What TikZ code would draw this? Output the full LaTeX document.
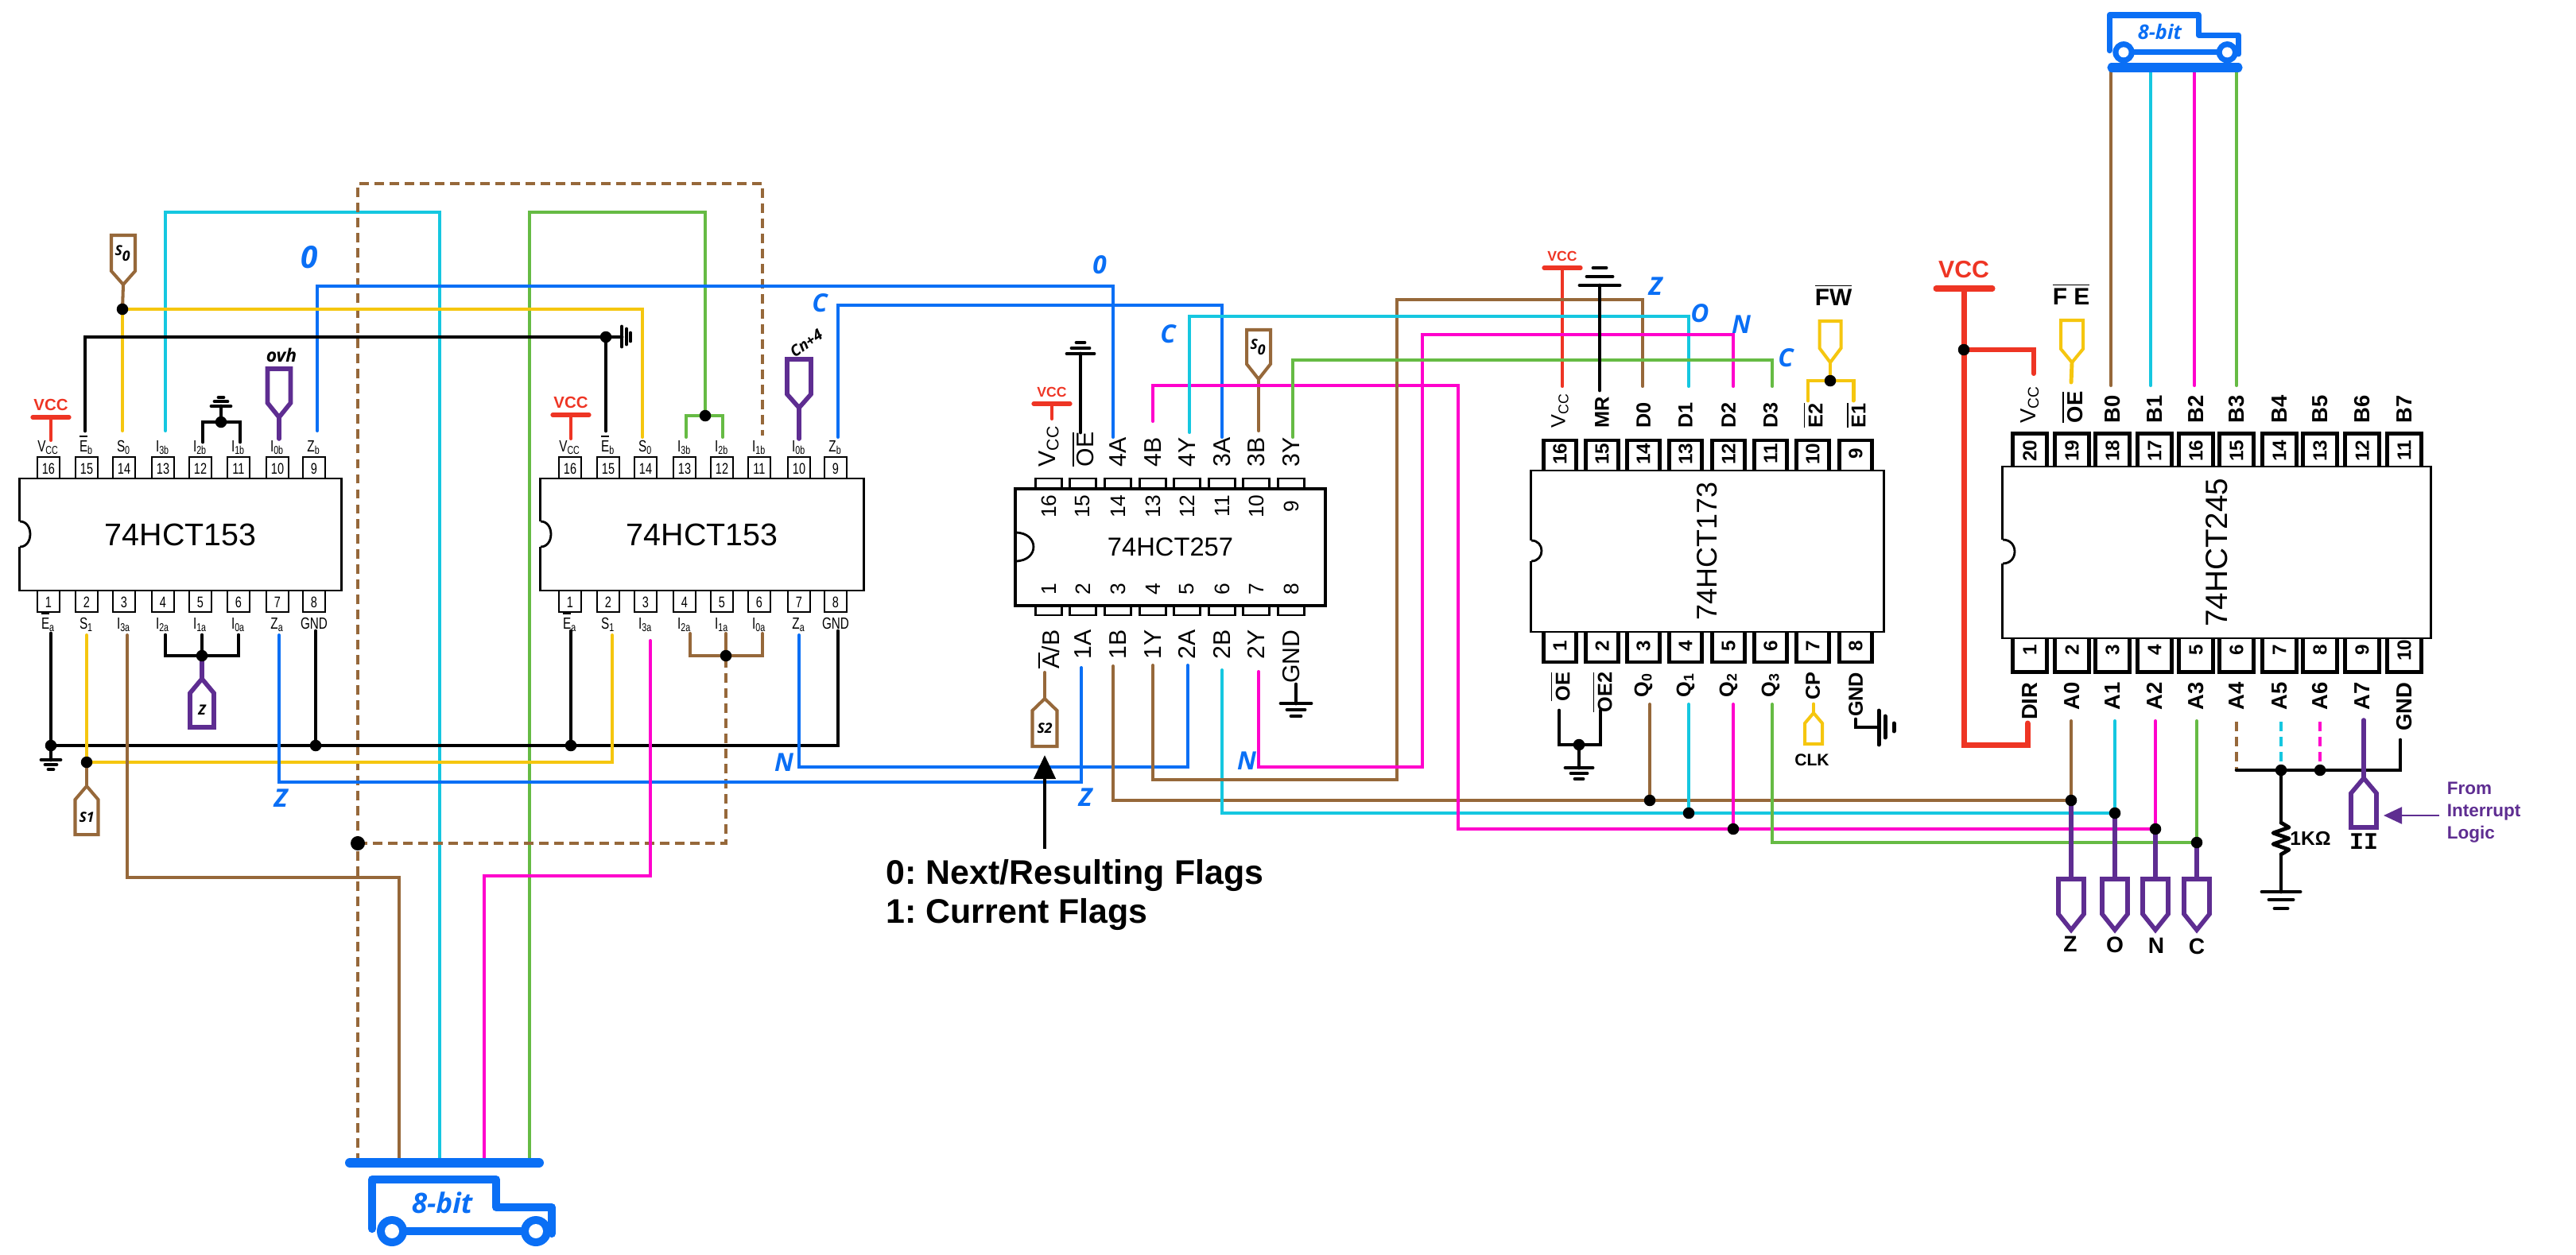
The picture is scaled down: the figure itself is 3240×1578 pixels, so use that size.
\documentclass[tikz,border=0pt]{standalone}
\usepackage{fontspec}
\usetikzlibrary{positioning,arrows.meta}
\setmainfont{Liberation Sans}
\newfontfamily\narrowfont[FakeStretch=0.75]{Liberation Sans}
\newfontfamily\handfont{Open Sans}
\newfontfamily\serifmono{Liberation Mono}

\definecolor{wbrown}{HTML}{96683A}
\definecolor{wcyan}{HTML}{15C7E0}
\definecolor{wgreen}{HTML}{66BB44}
\definecolor{wmag}{HTML}{FF00CC}
\definecolor{wblue}{HTML}{0A6FF5}
\definecolor{wyel}{HTML}{F5C60F}
\definecolor{wred}{HTML}{EE3524}
\definecolor{wpurp}{HTML}{5E2D91}

\newcommand{\fs}[1]{\fontsize{#1}{#1}\selectfont}
\newcommand{\ovl}[1]{\ensuremath{\overline{\hbox{#1}}}}

\tikzset{
  wire/.style={line width=1.15pt,line cap=round},
  brownw/.style={wire,draw=wbrown},
  cyanw/.style={wire,draw=wcyan},
  greenw/.style={wire,draw=wgreen},
  magw/.style={wire,draw=wmag},
  bluew/.style={wire,draw=wblue},
  yelw/.style={wire,draw=wyel},
  purpw/.style={wire,draw=wpurp,line width=1.6pt},
  redw/.style={wire,draw=wred},
  redthick/.style={wire,draw=wred,line width=2pt},
  blackw/.style={wire,draw=black,line width=1.35pt},
  dashw/.style={line width=1.35pt,line cap=butt,dash pattern=on 3.4pt off 2pt},
  chipbody/.style={draw,fill=white,rectangle,inner sep=0,line width=.8pt},
  pinA/.style={draw,line width=.7pt,minimum width=.28cm,minimum height=.30cm,inner sep=0},
  pinC/.style={draw,line width=.8pt,minimum width=.33cm,minimum height=.12cm,inner sep=0},
  pinD/.style={draw,line width=1.2pt,minimum width=.41cm,minimum height=.42cm,inner sep=0},
  pinE/.style={draw,line width=1.2pt,minimum width=.43cm,minimum height=.45cm,inner sep=0},
  numA/.style={inner sep=0,font=\narrowfont\fs{5.5}},
  numC/.style={inner sep=0,rotate=90,font=\fs{7.5}},
  numD/.style={inner sep=0,rotate=90,font=\bfseries\fs{6.9}},
  lblA/.style={inner sep=0,anchor=base,font=\narrowfont\fs{5.8}},
  lblCt/.style={inner sep=0,rotate=90,anchor=west,font=\fs{8.6}},
  lblCb/.style={inner sep=0,rotate=90,anchor=east,font=\fs{8.6}},
  lblDt/.style={inner sep=0,rotate=90,anchor=west,font=\bfseries\fs{7.2}},
  lblDb/.style={inner sep=0,rotate=90,anchor=east,font=\bfseries\fs{7.2}},
  lblEt/.style={lblDt,font=\bfseries\fs{7.8}},
  lblEb/.style={lblDb,font=\bfseries\fs{7.8}},
  junction/.style={circle,fill=black,inner sep=0,minimum size=.145cm},
  vcctext/.style={anchor=south,inner sep=.08cm,text=wred,font=\bfseries\fs{5}},
  tagtext/.style={inner sep=0,font=\handfont\bfseries\itshape\fs{5}},
  handblue/.style={inner sep=0,text=wblue,font=\handfont\bfseries\itshape\fs{9}},
  signame/.style={inner sep=0,font=\bfseries\fs{8}},
  gndline/.style={line width=1.4pt,line cap=round}
}

% name, pin style, y, number style, y, label style, y, list
\newcommand{\pinrow}[8]{%
  \foreach \n/\x/\lab in {#8}{%
    \node[#2] (#1\n) at (\x,#3) {};
    \node[#4] (#1\n-n) at (\x,#5) {\n};
    \node[#6] (#1\n-l) at (\x,#7) {\lab};
  }}
% notch in the left edge: x, y, radius, depth
\newcommand{\notch}[5][white]{%
  \draw[#1,line width=.9pt] (#2,#3-#4) -- (#2,#3+#4);
  \draw[line width=.8pt] (#2,#3+#4) .. controls (#2+#5*1.33,#3+#4) and (#2+#5*1.33,#3-#4) .. (#2,#3-#4);}
% name, colour style, x, half width, base, shoulder, apex, text
\newcommand{\tagshape}[8]{%
  \coordinate (#1) at (#3,#7);
  \coordinate (#1b) at (#3,#5);
  \draw[#2,fill=white,line join=miter] (#3-#4,#5) -- (#3-#4,#6) -- (#3,#7) -- (#3+#4,#6) -- (#3+#4,#5) -- cycle;
  \node[tagtext] (#1t) at (#3,{(#5+#6)/2}) {#8};}
% name, x, bar y, half width, text options, end of stem
\newcommand{\vccbar}[6]{%
  \coordinate (#1) at (#2,#3);
  \draw[redw,line width=1.5pt] (#2-#4,#3) -- (#2+#4,#3);
  \node[vcctext,#5] (#1t) at (#1) {VCC};
  \draw[redw] (#1) -- (#6);}
\newcommand{\gndbars}[7]{%
  \draw[gndline] (#1-#3,#2) -- (#1+#3,#2);
  \draw[gndline] (#1-#5,#4) -- (#1+#5,#4);
  \draw[gndline] (#1-#7,#6) -- (#1+#7,#6);}
% x, y, scale, line width, font size
\newcommand{\truck}[5]{%
  \begin{scope}[shift={(#1,#2)},scale=#3]
    \draw[wblue,line width=#4,line join=round,line cap=round] (0,62) -- (0,0) -- (156,0) -- (156,35) -- (226,35) -- (226,68);
    \draw[wblue,line width=#4] (25,65) -- (206,65);
    \foreach \w in {25,206}{
      \fill[wblue] (\w,65) circle[radius=19];
      \fill[white] (\w,65) circle[radius=9];
    }
    \node[handblue,font=\handfont\bfseries\itshape\fs{#5}] (truck#1) at (88,29) {8-bit};
  \end{scope}}

\begin{document}
\begin{tikzpicture}[x=.01cm,y=-.01cm]
  \useasboundingbox (0,0) rectangle (3240,1578);

  % wire ends
  \foreach \n/\x/\y in {aEb/107/542,aS0/154/542,aIiii/208/542,aZb/399/542,aIii/255/556,aIi/302/556,aIo/351/552,
    bEb/762/542,bS0/808/550,bIiii/863/550,bIii/909/550,bIi/959/548,bIo/1005/552,bZb/1054/550,
    aEa/64/797,aS1/109/799,aIiiia/160/799,aIiia/208/799,aIia/254/799,aIoa/300/799,aZa/351/799,aGnd/397/794,
    bEa/718/794,bS1/770/799,bIiiia/818/806,bIiia/868/797,bIia/913/797,bIoa/959/797,bZa/1005/799,bGnd/1054/794,
    cOE/1359/544,cAiv/1400/550,cBiv/1450/530,cYiv/1496/544,cAiii/1537/550,cBiii/1583/542,cYiii/1626/550,
    cAB/1314/846,cAi/1360/840,cBi/1400/838,cYi/1450/837,cAii/1494/837,cBii/1537/843,cYii/1583/845,cGnd/1630/861,
    dMR/2012/491,dDo/2066/486,dDi/2124/486,dDii/2180/486,dDiii/2229/486,dEii/2274/504,dEi/2331/504,
    dOE/1961/894,dOEii/2013/894,dQo/2075/886,dQi/2124/886,dQii/2180/886,dQiii/2229/886,dCP/2281/886,dGnd/2334/905,
    eVcc/2558/470,eOE/2605/481,eBo/2655/485,eBi/2705/485,eBii/2760/485,eBiii/2813/485,eDir/2550/910,
    eAo/2605/907,eAi/2660/907,eAii/2711/907,eAiii/2763/907,eAiv/2813/908,eAv/2869/908,eAvi/2918/908,eAvii/2973/906,eGnd/3019/931,
    railEnd/1054/938,gndA/64/956,gndB/782/424,gndMR/2012/359,gndOE/1986/966,gndR/2869/1122,gndC/1630/885,gndCoe/1359/445,gndI/278/511,
    resTop/2869/1035,resBot/2869/1075,eRail/2813/969,
    bbDash/450/1463,bbBrown/502/1463,bbCyan/553/1463,bbMag/609/1463,bbGreen/666/1463,busBl/440/1463,busBr/678/1463,
    btBrown/2655/85,btCyan/2705/85,btMag/2760/85,btGreen/2813/85,busTl/2656/85,busTr/2815/85,
    arrS/1314/1068,arrE/1314/950,arrPs/3068/1026,arrPe/2998/1026,
    eBend/2470/937,vccEl/2435/363,vccEr/2506/363}
    \coordinate (\n) at (\x,\y);
  \foreach \n/\x/\y in {jaS0/154/389,jbEb/762/424,jaI/278/531,jbI/887/523,jaBr/254/825,jbB/913/825,
    jRailA/64/938,jRailB/397/938,jRailC/718/938,jaS1/109/959,jdash/450/1061,
    jQ0/2075/1007,jQ1/2124/1023,jQ2/2180/1043,jA0/2605/1007,jA1/2660/1023,jA2/2711/1043,jA3/2763/1060,
    jdE/2302/479,jdOE/1986/937,jeV/2470/440,jeAv/2869/969,jeAvi/2918/969}
    \coordinate (\n) at (\x,\y);

  % 74HCT153, first
  \pinrow{a}{pinA}{590}{numA}{590}{lblA}{568}{16/61/V\textsubscript{CC},15/109/\ovl{E}\textsubscript{b},14/156/S\textsubscript{0},13/205/I\textsubscript{3b},12/252/I\textsubscript{2b},11/300/I\textsubscript{1b},10/349/I\textsubscript{0b},9/395/Z\textsubscript{b}}
  \pinrow{a}{pinA}{755}{numA}{758}{lblA}{791}{1/61/\ovl{E}\textsubscript{a},2/109/S\textsubscript{1},3/156/I\textsubscript{3a},4/205/I\textsubscript{2a},5/252/I\textsubscript{1a},6/300/I\textsubscript{0a},7/349/Z\textsubscript{a},8/395/GND}
  \node[chipbody,minimum width=4.04cm,minimum height=1.41cm,font=\fs{11.2}] (ua) at (227,672.5) {74HCT153};
  \notch{25}{672}{16}{13}

  % 74HCT153, second
  \pinrow{b}{pinA}{590}{numA}{590}{lblA}{568}{16/717/V\textsubscript{CC},15/765/\ovl{E}\textsubscript{b},14/812/S\textsubscript{0},13/861/I\textsubscript{3b},12/908/I\textsubscript{2b},11/955/I\textsubscript{1b},10/1005/I\textsubscript{0b},9/1051/Z\textsubscript{b}}
  \pinrow{b}{pinA}{755}{numA}{758}{lblA}{791}{1/717/\ovl{E}\textsubscript{a},2/765/S\textsubscript{1},3/812/I\textsubscript{3a},4/861/I\textsubscript{2a},5/908/I\textsubscript{1a},6/955/I\textsubscript{0a},7/1005/Z\textsubscript{a},8/1051/GND}
  \node[chipbody,minimum width=4.06cm,minimum height=1.41cm,font=\fs{11.2}] (ub) at (883,672.5) {74HCT153};
  \notch{680}{672}{16}{13}

  % 74HCT257
  \node[chipbody,line width=1.2pt,minimum width=3.90cm,minimum height=1.47cm,font=\fs{9.3}] (uc) at (1472,688.5) {74HCT257};
  \pinrow{c}{pinC}{608}{numC}{637}{lblCt}{588}{16/1319/V\textsubscript{CC},15/1362/\ovl{OE},14/1406/4A,13/1450/4B,12/1493/4Y,11/1537/3A,10/1580/3B,9/1624/3Y}
  \pinrow{c}{pinC}{768}{numC}{741}{lblCb}{792}{1/1319/{\ovl{A}/B},2/1362/1A,3/1406/1B,4/1450/1Y,5/1493/2A,6/1537/2B,7/1580/2Y,8/1624/GND}
  \notch[black]{1277}{688}{18}{23}

  % 74HCT173
  \pinrow{d}{pinD}{575}{numD}{571}{lblDt}{539}{16/1962/{\mdseries V\textsubscript{CC}},15/2015/MR,14/2067/D0,13/2120/D1,12/2174/D2,11/2227/D3,10/2280/\ovl{E2},9/2334/\ovl{E1}}
  \pinrow{d}{pinD}{812}{numD}{813}{lblDb}{845}{1/1962/\ovl{OE},2/2015/\ovl{OE2},3/2067/Q\textsubscript{0},4/2120/Q\textsubscript{1},5/2174/Q\textsubscript{2},6/2227/Q\textsubscript{3},7/2280/CP,8/2334/GND}
  \node[chipbody,rotate=90,minimum width=2.03cm,minimum height=4.43cm,font=\fs{10.2}] (ud) at (2147.5,693.5) {74HCT173};
  \notch{1926}{693}{13}{13}

  % 74HCT245
  \pinrow{e}{pinE}{568}{numD}{567}{lblEt}{533}{20/2553/{\mdseries V\textsubscript{CC}},19/2606/\ovl{OE},18/2657/B0,17/2710/B1,16/2762/B2,15/2813/B3,14/2867/B4,13/2918/B5,12/2971/B6,11/3024/B7}
  \pinrow{e}{pinE}{823}{numD}{818}{lblEb}{858}{1/2553/DIR,2/2606/A0,3/2657/A1,4/2710/A2,5/2762/A3,6/2813/A4,7/2867/A5,8/2918/A6,9/2971/A7,10/3024/GND}
  \node[chipbody,rotate=90,minimum width=2.16cm,minimum height=5.38cm,font=\fs{11}] (ue) at (2788,695) {74HCT245};
  \notch{2519}{694}{15}{15}

  % tags
  \tagshape{tgSa}{brownw}{155}{15}{296}{341}{358}{S\textsubscript{0}}
  \tagshape{tgOvh}{purpw}{351}{14.5}{464}{507}{525}{}
  \tagshape{tgCn}{purpw}{1005}{15}{452}{496}{513}{}
  \tagshape{tgZa}{purpw}{254}{15}{915}{872}{854}{Z}
  \tagshape{tgSi}{brownw}{109}{14.5}{1050}{1006}{989}{S1}
  \tagshape{tgSc}{brownw}{1583}{15}{415}{458}{477}{S\textsubscript{0}}
  \tagshape{tgSii}{brownw}{1314}{15.5}{939}{894}{879}{S2}
  \tagshape{tgFW}{yelw}{2302}{13.5}{404}{438}{456}{}
  \tagshape{tgCP}{yelw}{2281}{11}{936}{910}{897}{}
  \tagshape{tgFE}{yelw}{2606}{14}{403}{439}{456}{}
  \tagshape{tgZ}{purpw}{2605}{16}{1106}{1150}{1170}{}
  \tagshape{tgO}{purpw}{2660}{16}{1106}{1150}{1170}{}
  \tagshape{tgN}{purpw}{2711}{16}{1106}{1150}{1170}{}
  \tagshape{tgC}{purpw}{2763}{16}{1106}{1150}{1170}{}
  \tagshape{tgII}{purpw}{2973}{16}{1041}{998}{979}{}

  % power
  \vccbar{vccA}{64}{525}{23}{font=\bfseries\fs{5.8}}{64,554}
  \vccbar{vccB}{718}{522}{23}{font=\bfseries\fs{5.8}}{718,552}
  \vccbar{vccC}{1323}{508}{23}{}{1323,527}
  \vccbar{vccD}{1965}{337}{23}{}{1965,486}
  \vccbar{vccE}{2470}{363}{35}{font=\bfseries\fs{8.6},inner sep=.13cm}{2470,363}
  \draw[redthick] (vccE) -- (eBend) -| (eDir);
  \draw[redthick] (vccEl) -- (vccEr);
  \draw[redw,line width=1.7pt] (jeV) -| (eVcc);

  % long wires
  \draw[cyanw] (aIiii) |- (553,267) -- (bbCyan);
  \draw[greenw] (bbGreen) |- (887,267) -- (jbI);
  \draw[greenw] (bIiii) |- (jbI) -| (bIii);
  \draw[brownw,dashw] (bbDash) |- (959,231) -- (bIi);
  \draw[brownw,dashw] (jdash) -| (jbB);
  \draw[bluew] (aZb) |- (1400,360) -- (cAiv);
  \draw[bluew] (bZb) |- (1537,384) -- (cAiii);
  \draw[yelw] (aS0) |- (808,389) -- (bS0);
  \draw[brownw] (tgSa) -- (jaS0);
  \draw[blackw] (aEb) |- (gndB);
  \draw[blackw] (jbEb) -- (bEb);
  \draw[gndline] (782,411) -- (782,436);
  \draw[gndline] (788,414) -- (788,433);
  \draw[gndline] (793,419) -- (793,429);
  \draw[blackw] (aIii) |- (jaI) -| (aIi);
  \draw[blackw] (jaI) -- (gndI);
  \gndbars{278}{511}{12}{505}{8}{500}{3}
  \draw[purpw] (tgOvh) -- (aIo);
  \draw[purpw] (tgCn) -- (bIo);

  \draw[blackw] (aEa) |- (railEnd) -- (bGnd);
  \draw[blackw] (aGnd) -- (jRailB);
  \draw[blackw] (bEa) -- (jRailC);
  \draw[blackw] (jRailA) -- (gndA);
  \gndbars{64}{956}{12}{962}{7}{968}{3}
  \draw[yelw] (aS1) |- (770,959) -- (bS1);
  \draw[brownw] (jaS1) -- (tgSi);
  \draw[brownw] (aIiiia) |- (502,1104) -- (bbBrown);
  \draw[blackw] (aIiia) |- (jaBr) -| (aIoa);
  \draw[blackw] (aIia) -- (jaBr);
  \draw[purpw] (jaBr) -- (tgZa);
  \draw[bluew] (aZa) |- (1360,984) -- (cAi);
  \draw[magw] (bIiiia) |- (609,1102) -- (bbMag);
  \draw[brownw] (bIiia) |- (jbB) -| (bIoa);
  \draw[brownw] (bIia) -- (jbB);
  \draw[bluew] (bZa) |- (1494,965) -- (cAii);

  % around the 257
  \draw[blackw] (cOE) -- (gndCoe);
  \gndbars{1359}{445}{17}{438}{11}{431}{5}
  \draw[blackw] (cGnd) -- (gndC);
  \gndbars{1630}{885}{19}{893}{11}{901}{6}
  \draw[brownw] (tgSc) -- (cBiii);
  \draw[brownw] (cAB) -- (tgSii);
  \draw[brownw] (cBi) |- (jA0);
  \draw[cyanw] (cBii) |- (jA1);
  \draw[magw] (cBiv) |- (1834,485) -- (1834,1043) -- (jA2);
  \draw[brownw] (cYi) |- (1757,981) -- (1757,377) -| (dDo);
  \draw[cyanw] (cYiv) |- (2124,398) -- (dDi);
  \draw[magw] (cYii) |- (1789,965) -- (1789,421) -| (dDii);
  \draw[greenw] (cYiii) |- (2229,453) -- (dDiii);
  \draw[-{Triangle[length=.30cm,width=.27cm]},line width=1.3pt] (arrS) -- (arrE);

  % around the 173
  \draw[blackw] (dMR) -- (gndMR);
  \gndbars{2012}{359}{25}{348}{16}{337}{8}
  \draw[greenw] (dQiii) |- (jA3);
  \draw[brownw] (dQo) -- (jQ0);
  \draw[cyanw] (dQi) -- (jQ1);
  \draw[magw] (dQii) -- (jQ2);
  \draw[yelw,line width=1.4pt] (dEii) |- (jdE) -| (dEi);
  \draw[yelw,line width=1.4pt] (tgFW) -- (jdE);
  \draw[blackw] (dOE) |- (jdOE) -| (dOEii);
  \draw[blackw] (jdOE) -- (gndOE);
  \gndbars{1986}{966}{17}{973}{10}{980}{5}
  \draw[yelw,line width=1.4pt] (dCP) -- (tgCP);
  \draw[blackw] (dGnd) |- (2363,915);
  \draw[gndline] (2363,894) -- (2363,937);
  \draw[gndline] (2371,901) -- (2371,928);
  \draw[gndline] (2382,910) -- (2382,920);

  % around the 245
  \draw[yelw,line width=1.4pt] (tgFE) -- (eOE);
  \draw[brownw] (eBo) -- (btBrown);
  \draw[cyanw] (eBi) -- (btCyan);
  \draw[magw] (eBii) -- (btMag);
  \draw[greenw] (eBiii) -- (btGreen);
  \draw[brownw] (eAo) -- (jA0);
  \draw[cyanw] (eAi) -- (jA1);
  \draw[magw] (eAii) -- (jA2);
  \draw[greenw] (eAiii) -- (jA3);
  \foreach \j/\t in {jA0/tgZb,jA1/tgOb,jA2/tgNb,jA3/tgCb} \draw[purpw] (\j) -- (\t);
  \draw[brownw,dashw] (eAiv) -- (eRail);
  \draw[cyanw,dashw] (eAv) -- (jeAv);
  \draw[magw,dashw] (eAvi) -- (jeAvi);
  \draw[blackw] (eRail) -| (eGnd);
  \draw[purpw] (eAvii) -- (tgII);
  \draw[blackw] (jeAv) -- (resTop);
  \draw[blackw,line join=round] (resTop) -- (2879,1041) -- (2859,1048) -- (2879,1055) -- (2859,1062) -- (2879,1069) -- (resBot);
  \draw[blackw] (resBot) -- (gndR);
  \gndbars{2869}{1122}{24}{1132}{15}{1143}{8}
  \draw[wpurp,line width=.7pt,-{Triangle[length=.23cm,width=.21cm]}] (arrPs) -- (arrPe);

  % buses
  \draw[wblue,line width=3.4pt,line cap=round] (busBl) -- (busBr);
  \draw[wblue,line width=3.2pt,line cap=round] (busTl) -- (busTr);
  \truck{468}{1484}{1}{2.9pt}{10}
  \truck{2653}{19}{.72}{2pt}{7.2}

  % junctions
  \foreach \j in {jaS0,jbEb,jaI,jbI,jaBr,jbB,jRailA,jRailB,jRailC,jaS1,jQ0,jQ1,jQ2,jA0,jA1,jA2,jA3,jdE,jdOE,jeV,jeAv,jeAvi}
    \node[junction] (dot\j) at (\j) {};
  \node[junction,minimum size=.18cm] (dotdash) at (jdash) {};

  % hand written names
  \node[handblue,font=\handfont\bfseries\itshape\fs{11}] (nOa) at (389,324) {0};
  \node[handblue] (nCa) at (1031,381) {C};
  \node[handblue] (nZa) at (353,1004) {Z};
  \node[handblue] (nNa) at (986,959) {N};
  \node[handblue] (nOb) at (1383,333) {0};
  \node[handblue] (nCb) at (1469,420) {C};
  \node[handblue] (nNb) at (1568,957) {N};
  \node[handblue] (nZb) at (1365,1003) {Z};
  \node[handblue] (nZc) at (2082,360) {Z};
  \node[handblue] (nOc) at (2138,394) {O};
  \node[handblue] (nNc) at (2190,408) {N};
  \node[handblue] (nCc) at (2246,450) {C};
  \node[tagtext,font=\handfont\bfseries\itshape\fs{6.5}] (ovh) at (354,447) {ovh};
  \node[tagtext,font=\handfont\bfseries\itshape\fs{5.5},rotate=35] (cnfour) at (1014,432) {Cn+4};
  \node[signame,font=\bfseries\fs{8.5}] (fw) at (2306,371) {\ovl{FW}};
  \node[signame,font=\bfseries\fs{8.5}] (fe) at (2605,370) {\ovl{F E}};
  \node[signame,font=\bfseries\fs{6}] (clk) at (2279,956) {CLK};
  \node[signame] (lz) at (2604,1188) {Z};
  \node[signame] (lo) at (2660,1189) {O};
  \node[signame] (ln) at (2712,1190) {N};
  \node[signame] (lc) at (2763,1191) {C};
  \node[signame,font=\serifmono\bfseries\fs{8.5}] (lii) at (2973,1059) {II};
  \node[signame,font=\bfseries\fs{7}] (res) at (2906,1055) {1KΩ};
  \node[inner sep=0,anchor=west,align=left,text=wpurp,font=\fontsize{6.4}{8}\selectfont\bfseries] (fromi) at (3077,1022) {From\\Interrupt\\Logic};
  \node[inner sep=0,anchor=west,align=left,font=\fontsize{12.2}{14.2}\selectfont\bfseries\frenchspacing] (flags) at (1114,1126) {0: Next/Resulting Flags\\1: Current Flags};
\end{tikzpicture}
\end{document}
